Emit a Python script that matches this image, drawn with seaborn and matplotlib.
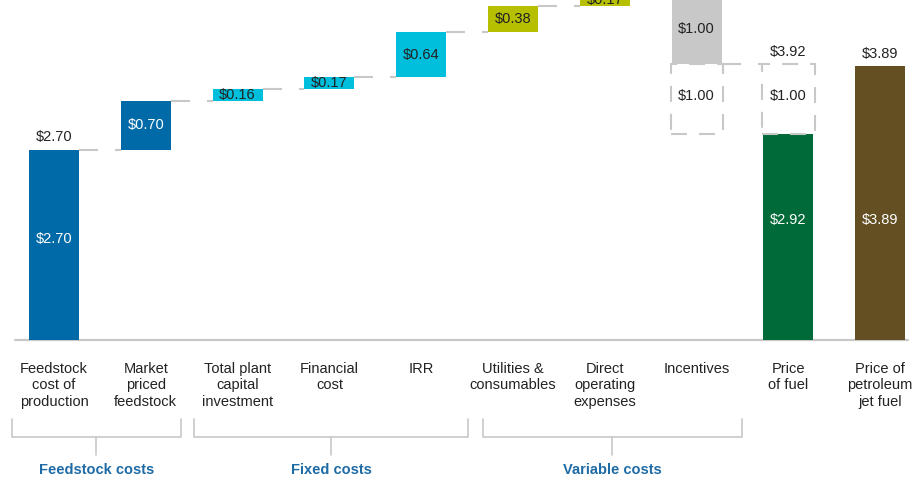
import numpy as np
import pandas as pd
import matplotlib
matplotlib.use("Agg")
import matplotlib.pyplot as plt
from matplotlib.patches import Rectangle
import seaborn as sns

# ---------------- data ----------------
categories = ["Feedstock\ncost of\nproduction", "Market\npriced\nfeedstock",
              "Total plant\ncapital\ninvestment", "Financial\ncost", "IRR",
              "Utilities &\nconsumables", "Direct\noperating\nexpenses", "Incentives",
              "Price\nof fuel", "Price of\npetroleum\njet fuel"]
values = [2.70, 0.70, 0.16, 0.17, 0.64, 0.38, 0.17, -1.00, 2.92, 3.89]
kinds = ["total", "step", "step", "step", "step", "step", "step", "step", "total", "total"]
value_labels = ["$2.70", "$0.70", "$0.16", "$0.17", "$0.64", "$0.38", "$0.17", "$1.00", "$2.92", "$3.89"]
top_labels = {0: "$2.70", 8: "$3.92", 9: "$3.89"}
incentive_value = 1.00
incentive_label = "$1.00"
groups = ["Feedstock costs", "Fixed costs", "Variable costs"]
group_members = [(0, 1), (2, 4), (5, 7)]

colors = ["#0069A7", "#0069A7", "#00BFDD", "#00BFDD", "#00BFDD",
          "#B6BF00", "#B6BF00", "#C8C8C8", "#006A38", "#634F22"]
text_colors = ["white", "white", "#222222", "#222222", "#222222",
               "#222222", "#222222", "#222222", "white", "white"]

# ---------------- waterfall geometry from data ----------------
bottoms, heights = [], []
running = 0.0
for v, k in zip(values, kinds):
    if k == "total":
        bottoms.append(0.0)
        heights.append(v)
        running = v
    else:
        if v >= 0:
            bottoms.append(running)
            heights.append(v)
        else:
            bottoms.append(running + v)
            heights.append(-v)
        running += v
bottoms = np.array(bottoms)
heights = np.array(heights)
level_after = []
running = 0.0
for v, k in zip(values, kinds):
    running = v if k == "total" else running + v
    level_after.append(running)

df = pd.DataFrame({"category": categories, "height": heights})

# ---------------- figure ----------------
sns.set_theme(style="white")
plt.rcParams["font.family"] = ["Liberation Sans", "DejaVu Sans"]

fig = plt.figure(figsize=(9.13, 4.79), dpi=100)
ax_h = 340 / 479
ax = fig.add_axes([0, 1 - ax_h, 1, ax_h])

W = 0.545
sns.barplot(data=df, x="category", y="height", ax=ax, width=W, color=colors[0],
            saturation=1, bottom=bottoms, linewidth=0, errorbar=None, order=categories)
for p, c in zip(ax.patches, colors):
    p.set_facecolor(c)
    p.set_edgecolor(c)

ax.set_xlim(-0.588, 9.357)
ax.set_ylim(0, 4.83)
for s in ax.spines.values():
    s.set_visible(False)
ax.set_yticks([])
ax.set_xlabel("")
ax.set_ylabel("")
ax.tick_params(axis="x", length=0, pad=15.5, labelsize=10.5, labelcolor="#222222")
for t in ax.get_xticklabels():
    t.set_linespacing(1.27)

grey = "#C8C8C8"
# baseline
ax.plot([-0.43, 9.3], [0, 0], color=grey, lw=1.6, clip_on=False, zorder=0)

# connectors
lw = 1.5
for i in range(len(values) - 2):
    if kinds[i + 1] == "total" and kinds[i] == "total":
        continue
    y = level_after[i]
    ax.plot([i + W / 2, i + 1 - W / 2], [y, y], color=grey, lw=lw,
            linestyle=(0, (19 / lw / 1.39, 17 / lw / 1.39)), zorder=0)

# dashed boxes (incentive)
ls_box = (0, (16 / lw / 1.39, 12 / lw / 1.39))
inc_idx = 7
box_bottom = level_after[inc_idx] - incentive_value
for idx, bw in [(inc_idx, W + 0.02), (8, W + 0.04)]:
    yb = box_bottom if idx == inc_idx else values[8]
    r = Rectangle((idx - bw / 2, yb), bw, incentive_value, fill=False,
                  edgecolor=grey, lw=lw, linestyle=ls_box, zorder=1)
    ax.add_patch(r)
    ax.text(idx, yb + incentive_value / 2 + 0.05, incentive_label, ha="center",
            va="center", fontsize=10.5, color="#222222")

# value labels inside bars
for i, (b, h) in enumerate(zip(bottoms, heights)):
    y = b + h / 2
    if i == 0:
        y = b + h * 0.53
    if i in (8, 9):
        y = 1.7
    ax.text(i, y, value_labels[i], ha="center", va="center", fontsize=10.5,
            color=text_colors[i], clip_on=True)

# top labels
for i, lab in top_labels.items():
    top = bottoms[i] + heights[i]
    if i == 8:
        top += incentive_value
    ax.annotate(lab, (i, top), xytext=(0, 4), textcoords="offset points",
                ha="center", va="bottom", fontsize=10.5, color="#222222")

# group brackets
trans = ax.get_xaxis_transform()
def yf(px):
    return (340 - px) / 340

bracket_pad = [(-0.46, 0.38), (-0.47, 0.51), (-0.33, 0.49)]
for g, (a, b), (pl, pr) in zip(groups, group_members, bracket_pad):
    x0, x1 = a + pl, b + pr
    xm = (x0 + x1) / 2
    ax.plot([x0, x0, x1, x1], [yf(419), yf(437), yf(437), yf(419)],
            transform=trans, color=grey, lw=1.2, clip_on=False)
    ax.plot([xm, xm], [yf(437), yf(455)], transform=trans, color=grey,
            lw=1.2, clip_on=False)
    ax.text(xm, yf(470), g, transform=trans, ha="center", va="center",
            fontsize=10.5, fontweight="bold", color="#1F6BA5")

fig.savefig("out.png", dpi=100)
